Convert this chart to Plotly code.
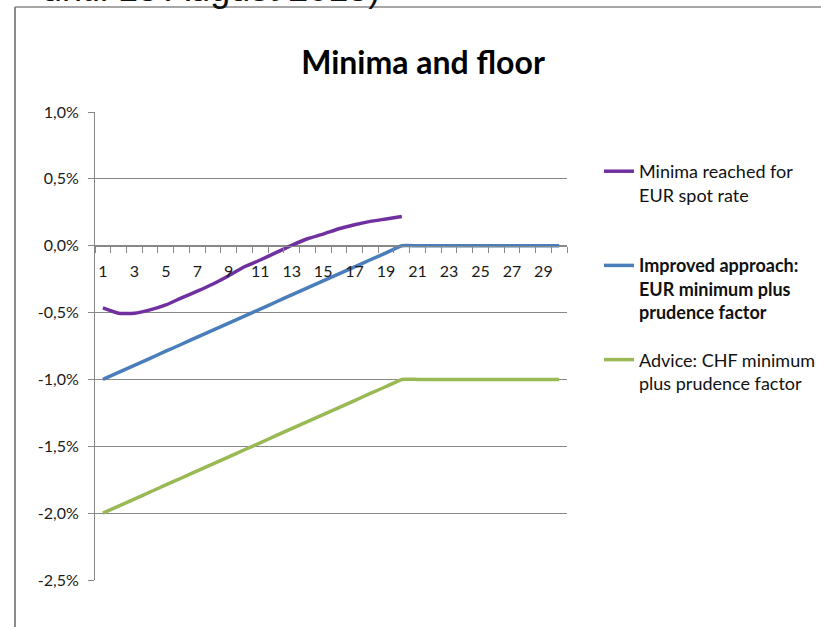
import plotly.graph_objects as go

days = list(range(1, 31))

minima_eur = [-0.465, -0.505, -0.505, -0.48, -0.443, -0.39, -0.34, -0.286, -0.224, -0.157,
              -0.107, -0.052, 0.003, 0.052, 0.087, 0.127, 0.157, 0.182, 0.200, 0.219]

improved = [-1.000, -0.947, -0.895, -0.842, -0.789, -0.737, -0.684, -0.632, -0.579, -0.526,
            -0.474, -0.421, -0.368, -0.316, -0.263, -0.211, -0.158, -0.105, -0.053, 0.000,
            0.000, 0.000, 0.000, 0.000, 0.000, 0.000, 0.000, 0.000, 0.000, 0.000]

advice = [-2.000, -1.947, -1.895, -1.842, -1.789, -1.737, -1.684, -1.632, -1.579, -1.526,
          -1.474, -1.421, -1.368, -1.316, -1.263, -1.211, -1.158, -1.105, -1.053, -1.000,
          -1.000, -1.000, -1.000, -1.000, -1.000, -1.000, -1.000, -1.000, -1.000, -1.000]

y_tickvals = [1.0, 0.5, 0.0, -0.5, -1.0, -1.5, -2.0, -2.5]
y_ticktext = ["1,0%", "0,5%", "0,0%", "-0,5%", "-1,0%", "-1,5%", "-2,0%", "-2,5%"]
x_tickvals = list(range(1, 31, 2))
x_ticktext = [str(v) for v in x_tickvals]

names = [
    "Minima reached for<br>EUR spot rate<br> ",
    "<b>Improved approach:</b><br><b>EUR minimum plus</b><br><b>prudence factor</b>",
    "Advice: CHF minimum<br>plus prudence factor<br> ",
]
colors = ["#7030A0", "#4A7EBB", "#98B954"]

W, H = 821, 627
L, R, T, B = 95, 254, 112, 47
PW, PH = W - L - R, H - T - B

fig = go.Figure()
for i, (vals, name, col) in enumerate(zip([minima_eur, improved, advice], names, colors)):
    fig.add_trace(go.Scatter(
        x=days[:len(vals)], y=vals, mode="lines", name=name,
        line=dict(color=col, width=3.5, shape="spline", smoothing=0.4),
        legendgroup=f"g{i}",
    ))

def px_x(p):
    return (p - L) / PW

def px_y(p):
    return (H - B - p) / PH

frame = "#8A8A8A"
fig.add_shape(type="line", xref="paper", yref="paper",
              x0=px_x(15), x1=px_x(15), y0=px_y(H + 2), y1=px_y(7),
              line=dict(color=frame, width=2))
fig.add_shape(type="line", xref="paper", yref="paper",
              x0=px_x(15), x1=px_x(W + 2), y0=px_y(7), y1=px_y(7),
              line=dict(color=frame, width=1.5))

fig.add_annotation(text="until 15 August 2015)", xref="paper", yref="paper",
                   x=px_x(40), y=px_y(11), xanchor="left", yanchor="bottom",
                   showarrow=False,
                   font=dict(family="Liberation Sans, Arial", size=36, color="#111111"))

fig.update_layout(
    width=W, height=H,
    margin=dict(l=L, r=R, t=T, b=B, autoexpand=False),
    paper_bgcolor="white", plot_bgcolor="white",
    title=dict(text="<b>Minima and floor</b>", x=423 / W, xanchor="center",
               y=1 - 63 / H, yanchor="middle", xref="container", yref="container",
               font=dict(family="Lato", size=32, color="#000000")),
    font=dict(family="Lato", size=16, color="#222222"),
    legend=dict(x=px_x(599), y=px_y(153), xanchor="left", yanchor="top",
                xref="paper", yref="paper", valign="top",
                font=dict(family="Lato", size=18, color="#111111"),
                tracegroupgap=21, bgcolor="rgba(0,0,0,0)"),
    showlegend=True,
)

fig.update_yaxes(range=[-2.5, 1.0], tickmode="array", tickvals=y_tickvals, ticktext=y_ticktext,
                 showgrid=True, gridcolor="#888888", gridwidth=1,
                 showline=True, linecolor="#888888", linewidth=1,
                 ticks="outside", ticklen=6, tickcolor="#888888",
                 zeroline=False, ticklabelstandoff=6,
                 tickfont=dict(family="Lato", size=16, color="#1a1a1a"))

fig.update_xaxes(range=[0.5, 30.5], tickmode="array", tickvals=x_tickvals, ticktext=x_ticktext,
                 anchor="free", position=2.5 / 3.5,
                 showgrid=False, zeroline=False,
                 showline=True, linecolor="#888888", linewidth=1,
                 ticks="", ticklabelstandoff=11,
                 minor=dict(tickmode="array", tickvals=[v + 0.5 for v in range(0, 31)],
                            ticks="outside", ticklen=6, tickcolor="#888888", showgrid=False),
                 tickfont=dict(family="Lato", size=16, color="#1a1a1a"))

fig.write_html("out.html", config={"displayModeBar": False})
